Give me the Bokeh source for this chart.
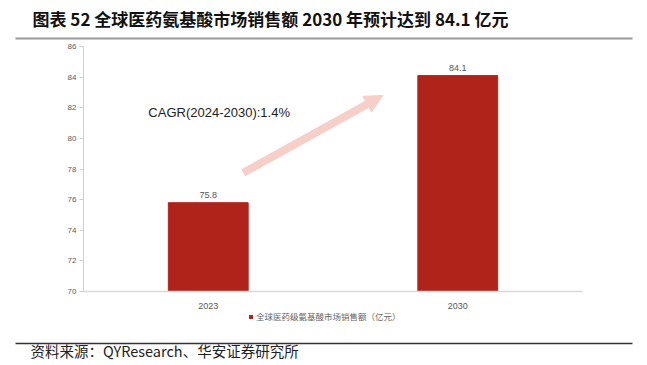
from bokeh.plotting import figure
from bokeh.models import (ColumnDataSource, Label, Arrow, NormalHead,
                          Legend, LegendItem, FactorRange, Range1d, FixedTicker)
from bokeh.layouts import column
from bokeh.core.properties import value
from bokeh.embed import file_html
from bokeh.resources import INLINE

years = ["2023", "2030"]
sales = [75.8, 84.1]
value_labels = ["75.8", "84.1"]
y_ticks = [70, 72, 74, 76, 78, 80, 82, 84, 86]
title_text = "图表 52 全球医药氨基酸市场销售额 2030 年预计达到 84.1 亿元"
legend_text = "全球医药级氨基酸市场销售额（亿元）"
source_text = "资料来源：QYResearch、华安证券研究所"
cagr_text = "CAGR(2024-2030):1.4%"

BAR = "#b0231a"
W = 640
LATIN = "Liberation Sans"
CJK = "Noto Sans CJK SC"


def blank(height):
    f = figure(width=W, height=height, x_range=Range1d(0, W), y_range=Range1d(height, 0),
               output_backend="svg", toolbar_location=None, min_border=0)
    f.axis.visible = False
    f.grid.visible = False
    f.outline_line_color = None
    f.frame_align = False
    return f


# header
top = blank(40)
top.add_layout(Label(x=32, y=18, text=title_text, text_font_size="17px",
                     text_font_style="bold", text_color="#111111",
                     text_font=CJK, text_baseline="middle"))
top.segment(x0=[15], y0=[38], x1=[632], y1=[38], line_color="#999999", line_width=2)

# main chart
MH = 271
p = figure(width=W, height=MH, x_range=FactorRange(*years, range_padding=0),
           y_range=Range1d(70, 86), output_backend="svg", toolbar_location=None,
           min_border_left=83, min_border_right=58, min_border_top=6, min_border_bottom=20)
p.outline_line_color = None
p.grid.visible = False
p.frame_align = False

src = ColumnDataSource(dict(x=years, top=sales, lab=value_labels))
r = p.vbar(x="x", top="top", bottom=70, width=0.32, source=src, fill_color=BAR, line_color=BAR)
p.text(x="x", y="top", text="lab", source=src, text_align="center", text_baseline="bottom",
       y_offset=-5, text_font_size="9px", text_color="#555555", text_font=value(LATIN))

p.yaxis.ticker = FixedTicker(ticks=y_ticks)
p.yaxis.axis_line_color = "#d0d0d0"
p.yaxis.major_tick_line_color = "#d0d0d0"
p.yaxis.major_tick_out = 4
p.yaxis.major_tick_in = 0
p.yaxis.minor_tick_line_color = None
p.yaxis.major_label_text_font_size = "8px"
p.yaxis.major_label_text_color = "#595959"
p.yaxis.major_label_text_font = LATIN
p.yaxis.major_label_standoff = 3
p.xaxis.axis_line_color = "#d9d9d9"
p.xaxis.axis_line_width = 1.5
p.xaxis.major_tick_line_color = None
p.xaxis.minor_tick_line_color = None
p.xaxis.major_label_text_font_size = "9px"
p.xaxis.major_label_text_color = "#595959"
p.xaxis.major_label_text_font = LATIN
p.xaxis.major_label_standoff = 5

p.add_layout(Arrow(x_start=0.64, y_start=77.75, x_end=1.2, y_end=82.8,
                   line_color="#f6d0c8", line_width=8,
                   end=NormalHead(size=18, fill_color="#f6d0c8", line_color="#f6d0c8")))
p.add_layout(Label(x=0.26, y=81.7, text=cagr_text, text_font_size="13px",
                   text_color="#222222", text_font=LATIN, text_baseline="middle"))

# footer with legend and source
BH = 52
bot = blank(BH)
# legend swatch only: a zero-size bar that draws nothing on the canvas
dummy = bot.vbar(x=[0], top=[0], bottom=0, width=0, fill_color=BAR, line_color=None)
legend = Legend(items=[LegendItem(label=legend_text, renderers=[dummy])],
                location=(248, BH - 11), glyph_width=5, glyph_height=5, label_standoff=3,
                padding=0, margin=0, label_text_font_size="8.5px",
                label_text_color="#666666", label_text_font=CJK,
                border_line_color=None, background_fill_alpha=0, label_height=10)
bot.add_layout(legend)
bot.segment(x0=[15], y0=[32], x1=[632], y1=[32], line_color="#333333", line_width=1.5)
bot.add_layout(Label(x=30, y=39, text=source_text, text_font_size="14.5px",
                     text_color="#222222", text_font=CJK, text_baseline="middle"))

layout = column(top, p, bot, spacing=0)
open("out.html", "w").write(file_html(layout, INLINE))
